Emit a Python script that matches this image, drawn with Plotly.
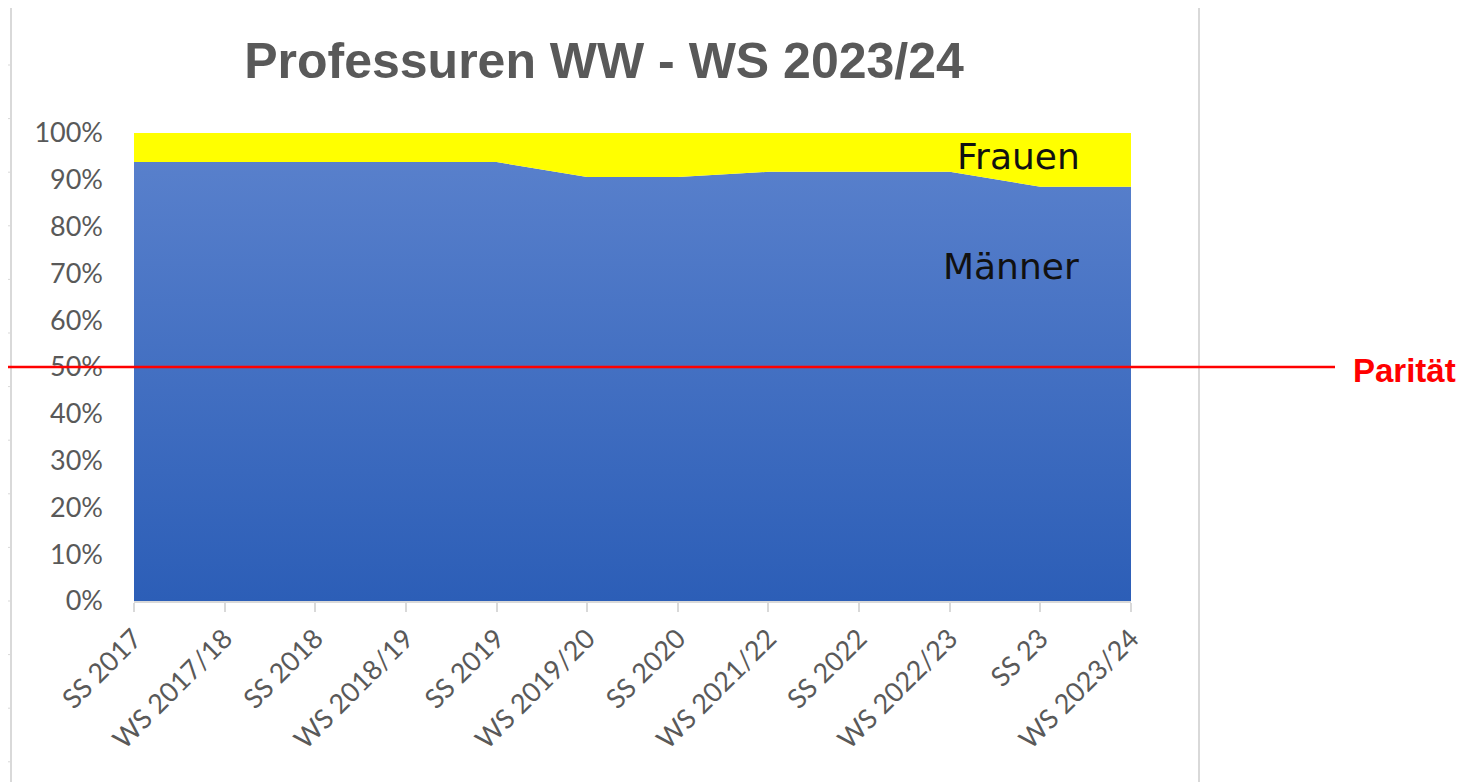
import plotly.graph_objects as go

# ---- data ----
semesters = ["SS 2017", "WS 2017/18", "SS 2018", "WS 2018/19", "SS 2019", "WS 2019/20",
             "SS 2020", "WS 2021/22", "SS 2022", "WS 2022/23", "SS 23", "WS 2023/24"]
maenner_pct = [93.8, 93.8, 93.8, 93.8, 93.8, 90.6, 90.6, 91.7, 91.7, 91.7, 88.5, 88.5]
frauen_pct = [round(100 - m, 1) for m in maenner_pct]
y_ticks = list(range(0, 101, 10))
paritaet = 50

OFF = 8  # page body margin
W, H = 1470 - OFF, 782 - OFF
L, R, T, B = 134 - OFF, 1131 - OFF, 133 - OFF, 601 - OFF  # plot area in figure pixels


def px(x):  # reference screen x -> paper
    return (x - OFF - L) / (R - L)


def py(y):  # reference screen y -> paper
    return (B - (y - OFF)) / (B - T)


fig = go.Figure()
fig.add_trace(go.Scatter(
    x=semesters, y=maenner_pct, name="Männer", stackgroup="one", mode="none",
    fillgradient=dict(type="vertical", start=0, stop=100,
                      colorscale=[[0, "#2C5EB7"], [1, "#5B82CD"]]),
    hoverinfo="x+y",
))
fig.add_trace(go.Scatter(
    x=semesters, y=frauen_pct, name="Frauen", stackgroup="one", mode="none",
    fillcolor="#FFFF00", hoverinfo="x+y",
))

shapes = []
# parity line
shapes.append(dict(type="line", xref="paper", yref="y", x0=px(0), x1=px(1335),
                   y0=paritaet, y1=paritaet, line=dict(color="#FF0000", width=2.5), layer="above"))
# decorative frame lines (screenshot borders)
shapes.append(dict(type="line", xref="paper", yref="paper", x0=px(11), x1=px(11),
                   y0=py(6), y1=py(782), line=dict(color="#D9D9D9", width=2), layer="below"))
shapes.append(dict(type="line", xref="paper", yref="paper", x0=px(1199), x1=px(1199),
                   y0=py(8), y1=py(782), line=dict(color="#D9D9D9", width=2), layer="below"))
for i in range(14):
    yy = 65 + i * 53.6
    shapes.append(dict(type="line", xref="paper", yref="paper", x0=px(7), x1=px(11),
                       y0=py(yy), y1=py(yy), line=dict(color="#D9D9D9", width=1), layer="below"))

annotations = [
    dict(text="Frauen", x=semesters[10], y=94.9, xref="x", yref="y", showarrow=False,
         xanchor="center", yanchor="middle", xshift=-22,
         font=dict(family="DejaVu Sans", size=36, color="#111111")),
    dict(text="Männer", x=semesters[10], y=71.5, xref="x", yref="y", showarrow=False,
         xanchor="center", yanchor="middle", xshift=-29,
         font=dict(family="DejaVu Sans", size=36, color="#111111")),
    dict(text="<b>Parität</b>", x=px(1351), y=paritaet, xref="paper", yref="y", showarrow=False,
         xanchor="left", yanchor="middle", yshift=-3,
         font=dict(family="Liberation Sans", size=33, color="#FF0000")),
]

fig.update_layout(
    width=W, height=H,
    margin=dict(l=L, r=W - R, t=T, b=H - B, pad=0),
    paper_bgcolor="white", plot_bgcolor="white",
    showlegend=False,
    title=dict(text="<b>Professuren WW - WS 2023/24</b>", x=(604 - OFF) / W, xanchor="center",
               y=1 - (60 - OFF) / H, yanchor="middle",
               font=dict(family="Liberation Sans", size=50, color="#595959")),
    shapes=shapes, annotations=annotations,
)
fig.update_xaxes(
    type="category", range=[0, len(semesters) - 1], showgrid=False,
    showline=True, linecolor="#D9D9D9", linewidth=2,
    ticks="outside", ticklen=9, tickcolor="#D9D9D9", tickwidth=2,
    tickangle=-45, tickfont=dict(family="Lato", size=27, color="#595959"),
)
fig.update_yaxes(
    range=[0, 100], tickvals=y_ticks, ticktext=[f"{v}%" for v in y_ticks],
    showgrid=False, zeroline=False, showline=False, ticks="",
    ticklabelstandoff=30,
    tickfont=dict(family="Lato", size=27, color="#595959"),
)

fig.write_html("out.html")
